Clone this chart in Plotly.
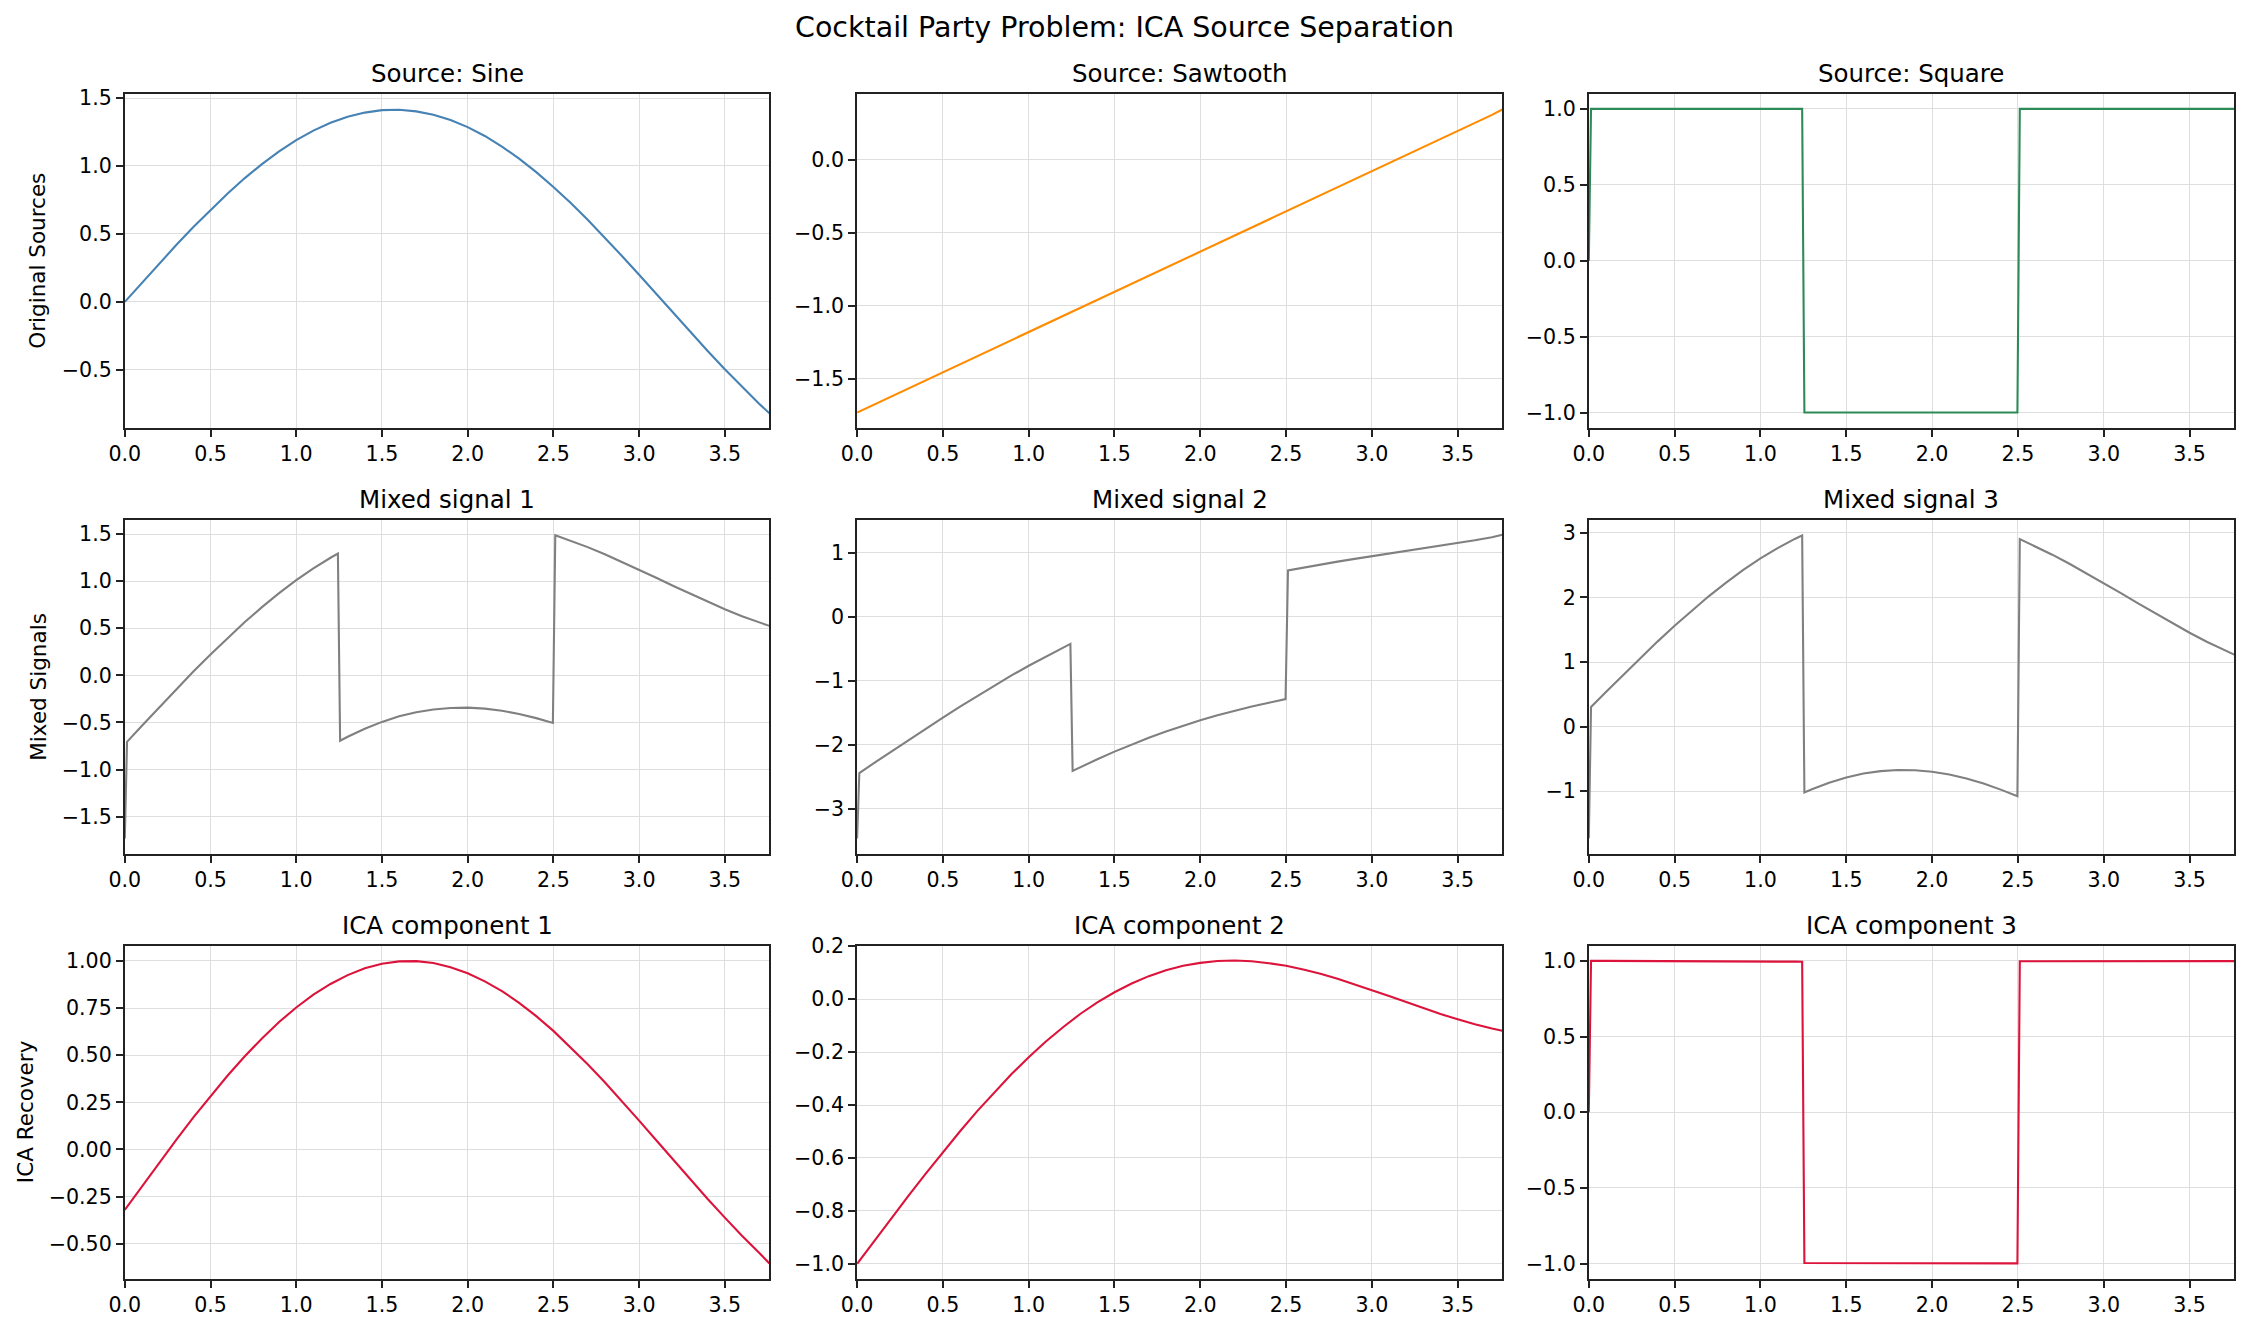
import plotly.graph_objects as go

# ---------------- data ----------------
x_smooth = [0.0, 0.1, 0.2, 0.3, 0.4, 0.5, 0.6, 0.7, 0.8, 0.9, 1.0, 1.1, 1.2, 1.3,
            1.4, 1.5, 1.6, 1.7, 1.8, 1.9, 2.0, 2.1, 2.2, 2.3, 2.4, 2.5, 2.6, 2.7,
            2.8, 2.9, 3.0, 3.1, 3.2, 3.3, 3.4, 3.5, 3.6, 3.7, 3.76]

x_step = [0.0, 0.013, 0.1, 0.2, 0.3, 0.4, 0.5, 0.6, 0.7, 0.8, 0.9, 1.0, 1.1, 1.2,
          1.243, 1.256, 1.3, 1.4, 1.5, 1.6, 1.7, 1.8, 1.9, 2.0, 2.1, 2.2, 2.3, 2.4,
          2.497, 2.511, 2.6, 2.7, 2.8, 2.9, 3.0, 3.1, 3.2, 3.3, 3.4, 3.5, 3.6, 3.7, 3.76]

sine = [0.000, 0.141, 0.281, 0.418, 0.551, 0.678, 0.798, 0.911, 1.014, 1.108,
        1.190, 1.260, 1.318, 1.363, 1.393, 1.411, 1.414, 1.402, 1.377, 1.338,
        1.286, 1.221, 1.143, 1.054, 0.955, 0.846, 0.729, 0.604, 0.474, 0.338,
        0.200, 0.059, -0.083, -0.223, -0.361, -0.496, -0.626, -0.749, -0.820]

sawtooth = [-1.731, -1.676, -1.621, -1.566, -1.511, -1.456, -1.400, -1.345, -1.290,
            -1.235, -1.180, -1.125, -1.070, -1.015, -0.960, -0.905, -0.849, -0.794,
            -0.739, -0.684, -0.629, -0.574, -0.519, -0.464, -0.409, -0.354, -0.298,
            -0.243, -0.188, -0.133, -0.078, -0.023, 0.032, 0.087, 0.142, 0.197,
            0.253, 0.308, 0.345]

square = [0.0,
          1, 1, 1, 1, 1, 1, 1, 1, 1, 1, 1, 1, 1, 1,
          -1, -1, -1, -1, -1, -1, -1, -1, -1, -1, -1, -1, -1, -1,
          1, 1, 1, 1, 1, 1, 1, 1, 1, 1, 1, 1, 1, 1]

mixed_1 = [-1.731,
           -0.706, -0.535, -0.340, -0.148, 0.040, 0.222, 0.398, 0.566, 0.724, 0.873,
           1.010, 1.135, 1.248, 1.293,
           -0.694, -0.652, -0.567, -0.494, -0.435, -0.392, -0.362, -0.346, -0.343,
           -0.353, -0.376, -0.410, -0.454, -0.505,
           1.487, 1.431, 1.361, 1.286, 1.205, 1.122, 1.036, 0.949, 0.864, 0.781,
           0.701, 0.627, 0.559, 0.525]

mixed_2 = [-3.462,
           -2.439, -2.282, -2.102, -1.923, -1.747, -1.573, -1.401, -1.235, -1.073,
           -0.916, -0.765, -0.620, -0.481, -0.423,
           -2.406, -2.349, -2.224, -2.105, -1.991, -1.887, -1.790, -1.699, -1.615,
           -1.538, -1.467, -1.401, -1.341, -1.285,
           0.723, 0.769, 0.816, 0.861, 0.903, 0.944, 0.984, 1.023, 1.063, 1.104,
           1.146, 1.193, 1.242, 1.280]

mixed_3 = [-1.731,
           0.303, 0.536, 0.801, 1.061, 1.316, 1.561, 1.797, 2.022, 2.231, 2.427,
           2.605, 2.765, 2.907, 2.962,
           -1.022, -0.971, -0.871, -0.789, -0.728, -0.691, -0.674, -0.677, -0.700,
           -0.743, -0.805, -0.883, -0.977, -1.081,
           2.904, 2.796, 2.663, 2.523, 2.374, 2.222, 2.066, 1.908, 1.753, 1.601,
           1.453, 1.314, 1.185, 1.115]

ica_1 = [-0.321, -0.196, -0.071, 0.051, 0.170, 0.284, 0.392, 0.494, 0.589, 0.676,
         0.753, 0.821, 0.878, 0.925, 0.961, 0.985, 0.998, 0.999, 0.989, 0.967,
         0.935, 0.892, 0.840, 0.778, 0.707, 0.629, 0.543, 0.452, 0.356, 0.256,
         0.153, 0.049, -0.056, -0.160, -0.263, -0.362, -0.458, -0.548, -0.605]

ica_2 = [-1.000, -0.913, -0.827, -0.742, -0.659, -0.577, -0.499, -0.423, -0.351,
         -0.283, -0.219, -0.160, -0.106, -0.056, -0.012, 0.026, 0.059, 0.087,
         0.109, 0.126, 0.137, 0.144, 0.146, 0.143, 0.136, 0.126, 0.112, 0.096,
         0.077, 0.056, 0.035, 0.012, -0.011, -0.034, -0.056, -0.076, -0.095,
         -0.111, -0.119]

ica_3 = [0.0,
         1.000, 1.000, 0.999, 0.999, 0.998, 0.998, 0.997, 0.997, 0.996, 0.996,
         0.995, 0.995, 0.995, 0.994,
         -0.996, -0.996, -0.997, -0.997, -0.997, -0.998, -0.998, -0.998, -0.998,
         -0.999, -0.999, -0.999, -0.999, -0.999,
         0.997, 0.997, 0.997, 0.997, 0.997, 0.998, 0.998, 0.998, 0.998, 0.998,
         0.998, 0.998, 0.998, 0.998]

panel_titles = ["Source: Sine", "Source: Sawtooth", "Source: Square",
                "Mixed signal 1", "Mixed signal 2", "Mixed signal 3",
                "ICA component 1", "ICA component 2", "ICA component 3"]
row_labels = ["Original Sources", "Mixed Signals", "ICA Recovery"]
main_title = "Cocktail Party Problem: ICA Source Separation"

x_tick_vals = [0.0, 0.5, 1.0, 1.5, 2.0, 2.5, 3.0, 3.5]
x_tick_text = ["0.0", "0.5", "1.0", "1.5", "2.0", "2.5", "3.0", "3.5"]

yt_sine = [-0.5, 0.0, 0.5, 1.0, 1.5]
yl_sine = ["\u22120.5", "0.0", "0.5", "1.0", "1.5"]
yt_saw = [-1.5, -1.0, -0.5, 0.0]
yl_saw = ["\u22121.5", "\u22121.0", "\u22120.5", "0.0"]
yt_sq = [-1.0, -0.5, 0.0, 0.5, 1.0]
yl_sq = ["\u22121.0", "\u22120.5", "0.0", "0.5", "1.0"]
yt_m1 = [-1.5, -1.0, -0.5, 0.0, 0.5, 1.0, 1.5]
yl_m1 = ["\u22121.5", "\u22121.0", "\u22120.5", "0.0", "0.5", "1.0", "1.5"]
yt_m2 = [-3, -2, -1, 0, 1]
yl_m2 = ["\u22123", "\u22122", "\u22121", "0", "1"]
yt_m3 = [-1, 0, 1, 2, 3]
yl_m3 = ["\u22121", "0", "1", "2", "3"]
yt_i1 = [-0.5, -0.25, 0.0, 0.25, 0.5, 0.75, 1.0]
yl_i1 = ["\u22120.50", "\u22120.25", "0.00", "0.25", "0.50", "0.75", "1.00"]
yt_i2 = [-1.0, -0.8, -0.6, -0.4, -0.2, 0.0, 0.2]
yl_i2 = ["\u22121.0", "\u22120.8", "\u22120.6", "\u22120.4", "\u22120.2", "0.0", "0.2"]
yt_i3 = [-1.0, -0.5, 0.0, 0.5, 1.0]
yl_i3 = ["\u22121.0", "\u22120.5", "0.0", "0.5", "1.0"]

# ---------------- styling / layout ----------------
C_BLUE = "steelblue"
C_ORANGE = "darkorange"
C_GREEN = "seagreen"
C_GRAY = "gray"
C_RED = "crimson"

panels = [
    (x_smooth, sine, C_BLUE, yt_sine, yl_sine, [-0.926, 1.532]),
    (x_smooth, sawtooth, C_ORANGE, yt_saw, yl_saw, [-1.835, 0.453]),
    (x_step, square, C_GREEN, yt_sq, yl_sq, [-1.1, 1.1]),
    (x_step, mixed_1, C_GRAY, yt_m1, yl_m1, [-1.893, 1.652]),
    (x_step, mixed_2, C_GRAY, yt_m2, yl_m2, [-3.698, 1.515]),
    (x_step, mixed_3, C_GRAY, yt_m3, yl_m3, [-1.970, 3.205]),
    (x_smooth, ica_1, C_RED, yt_i1, yl_i1, [-0.686, 1.081]),
    (x_smooth, ica_2, C_RED, yt_i2, yl_i2, [-1.056, 0.202]),
    (x_step, ica_3, C_RED, yt_i3, yl_i3, [-1.1, 1.1]),
]

W, H = 2249, 1329
col_dom = [(124.8 / W, 769.4 / W), (857.1 / W, 1502.3 / W), (1588.8 / W, 2234.2 / W)]
row_px = [(93.7, 427.7), (519.7, 853.7), (945.7, 1278.7)]
row_dom = [(1 - b / H, 1 - t / H) for (t, b) in row_px]

FONT = "DejaVu Sans"
TICK_FONT = dict(family=FONT, size=20.6, color="black")

fig = go.Figure()
layout = dict(
    template="none",
    width=W, height=H,
    margin=dict(l=0, r=0, t=0, b=0, autoexpand=False),
    paper_bgcolor="white", plot_bgcolor="white",
    showlegend=False,
    font=dict(family=FONT, color="black"),
)
annotations = []

for i, (xs, ys, col, ytv, ytt, yr) in enumerate(panels):
    r, c = divmod(i, 3)
    n = i + 1
    xa = "xaxis" if n == 1 else f"xaxis{n}"
    ya = "yaxis" if n == 1 else f"yaxis{n}"
    xref = "x" if n == 1 else f"x{n}"
    yref = "y" if n == 1 else f"y{n}"
    fig.add_trace(go.Scatter(x=xs, y=ys, mode="lines",
                             line=dict(color=col, width=2.1),
                             xaxis=xref, yaxis=yref, hoverinfo="skip"))
    common = dict(showgrid=True, gridcolor="#dedede", gridwidth=1.4,
                  zeroline=False, showline=True, mirror=True, automargin=False,
                  linecolor="#222222", linewidth=1.7,
                  ticks="outside", ticklen=7, tickwidth=1.6, tickcolor="#222222",
                  tickfont=TICK_FONT)
    layout[xa] = dict(domain=list(col_dom[c]), anchor=yref, range=[0, 3.76],
                      tickmode="array", tickvals=x_tick_vals, ticktext=x_tick_text,
                      **common)
    layout[ya] = dict(domain=list(row_dom[r]), anchor=xref, range=yr,
                      tickmode="array", tickvals=ytv, ticktext=ytt, **common)
    annotations.append(dict(
        text=panel_titles[i], xref="paper", yref="paper",
        x=(col_dom[c][0] + col_dom[c][1]) / 2, y=row_dom[r][1],
        xanchor="center", yanchor="bottom", yshift=4, showarrow=False,
        font=dict(family=FONT, size=24.5, color="black")))

label_x = [38, 39, 25]
for r in range(3):
    annotations.append(dict(
        text=row_labels[r], xref="paper", yref="paper",
        x=label_x[r] / W, y=(row_dom[r][0] + row_dom[r][1]) / 2,
        xanchor="center", yanchor="middle", textangle=-90, showarrow=False,
        font=dict(family=FONT, size=21.5, color="black")))

annotations.append(dict(
    text=main_title, xref="paper", yref="paper",
    x=0.5, y=1 - 27 / H, xanchor="center", yanchor="middle", showarrow=False,
    font=dict(family=FONT, size=28.5, color="black")))

layout["annotations"] = annotations
fig.update_layout(**layout)
fig.write_html("out.html")
